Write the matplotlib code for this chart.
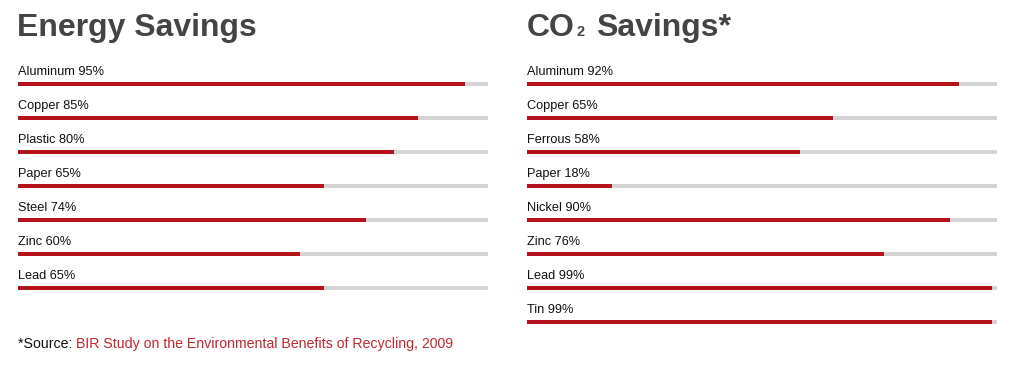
import matplotlib
matplotlib.use("Agg")
import matplotlib.pyplot as plt

energy_labels = ["Aluminum", "Copper", "Plastic", "Paper", "Steel", "Zinc", "Lead"]
energy_values = [95, 85, 80, 65, 74, 60, 65]
co2_labels = ["Aluminum", "Copper", "Ferrous", "Paper", "Nickel", "Zinc", "Lead", "Tin"]
co2_values = [92, 65, 58, 18, 90, 76, 99, 99]

RED = "#b5121b"
TRACK = "#d4d4d4"
TITLE = "#444444"
FONT = ["Liberation Sans", "DejaVu Sans"]
plt.rcParams["font.family"] = FONT

W, H = 1017, 366
fig = plt.figure(figsize=(W / 100, H / 100), dpi=100)

def panel(x0, labels, values):
    ax = fig.add_axes([x0 / W, (H - 356) / H, 470 / W, 306 / H])
    ax.set_xlim(0, 100)
    ax.set_ylim(8, -1)
    ax.axis("off")
    rows = list(range(len(values)))
    bh = 4 / 34
    ax.barh(rows, [100] * len(values), height=bh, color=TRACK, left=0)
    ax.barh(rows, values, height=bh, color=RED, left=0)
    for r, lab, v in zip(rows, labels, values):
        ax.text(0, r - 0.35, f"{lab} {v}%", fontsize=9.2, color="#111111",
                va="center", ha="left")
    return ax

panel(18, energy_labels, energy_values)
panel(527, co2_labels, co2_values)

TS = 23.0
BASE = 1 - 36 / H
fig.text(17 / W, BASE, "Energy Savings", fontsize=TS, fontweight="bold",
         color=TITLE, va="baseline", ha="left")
t_co = fig.text(527 / W, BASE, "CO", fontsize=TS, fontweight="bold",
                color=TITLE, va="baseline", ha="left")
t_2 = fig.text(0, BASE, "2", fontsize=10.5, fontweight="bold", color=TITLE,
               va="baseline", ha="left")
fig.canvas.draw()
r = fig.canvas.get_renderer()
bb = t_co.get_window_extent(r)
t_2.set_x((bb.x1 + 2) / W)
bb2 = t_2.get_window_extent(r)
fig.text((bb2.x1 + 11) / W, BASE, "Savings*", fontsize=TS, fontweight="bold",
         color=TITLE, va="baseline", ha="left")

s1 = fig.text(18 / W, 1 - 344 / H, "*Source: ", fontsize=10.2, color="#111111",
              va="center", ha="left")
fig.canvas.draw()
bb = s1.get_window_extent(fig.canvas.get_renderer())
fig.text(bb.x1 / W, 1 - 344 / H, "BIR Study on the Environmental Benefits of Recycling, 2009",
         fontsize=10.2, color="#c0272d", va="center", ha="left")

fig.savefig("out.png", dpi=100)
